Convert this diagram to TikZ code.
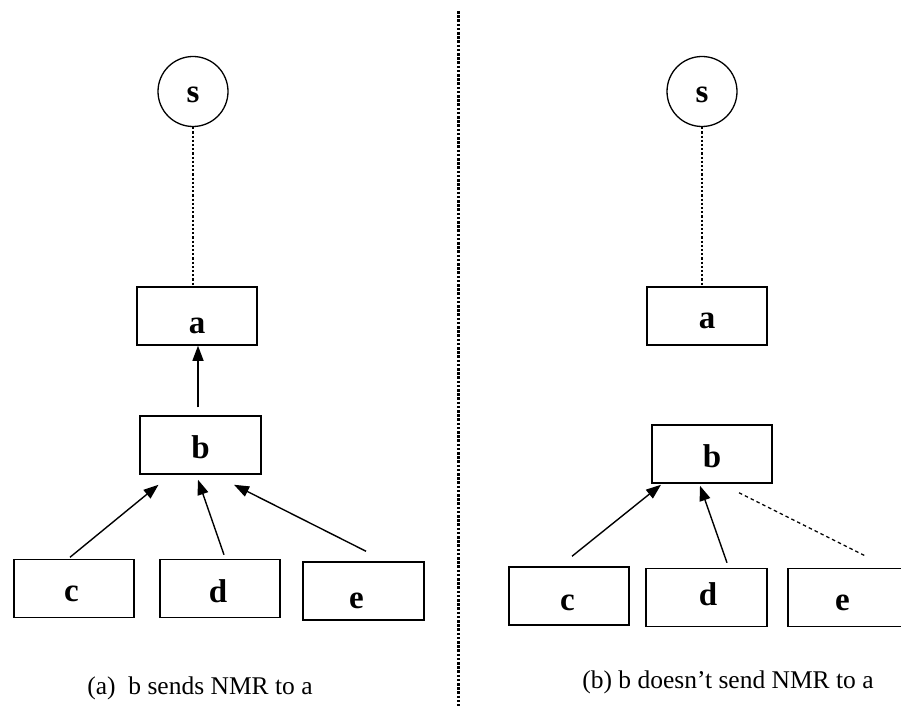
\documentclass[tikz,border=0pt]{standalone}
\usepackage{fontspec}
\setmainfont{Liberation Serif}
\usetikzlibrary{arrows.meta,calc}

\tikzset{
  % baseline sits half the text height below the node centre
  peer/.style={draw, line width=1.5pt, minimum width=120pt, minimum height=58pt,
               inner sep=0pt, text height=26pt, text depth=0pt,
               font=\fontsize{33}{36}\selectfont\bfseries},
  source/.style={draw, circle, line width=1.3pt, minimum size=70pt, inner sep=0pt,
                 text height=23pt, text depth=0pt,
                 font=\fontsize{33}{36}\selectfont\bfseries},
  % move the letter sideways inside its box without changing the box
  nudge/.style={execute at begin node={\hspace*{#1}},
                execute at end node={\hspace*{-#1}}},
  nmr/.style={line width=1.4pt, -{Triangle[length=15pt,width=11pt]}},
  silent/.style={line width=1.3pt, dash pattern=on 3.5pt off 3pt},
  uplink/.style={line width=1.2pt, dash pattern=on 2.2pt off 2pt},
  divider/.style={line width=3pt, dash pattern=on 2.6pt off 1.6pt},
  caption/.style={anchor=base, inner sep=0pt, font=\fontsize{25.5}{28}\selectfont}
}

\begin{document}
\begin{tikzpicture}[x=1pt, y=-1pt]
  \useasboundingbox (0,0) rectangle (901,711);

  % ---- (a) b sends NMR to a ----
  \node[source] (s1) at (193,91.5) {s};
  \node[peer, text height=34pt] (a1) at (197,316) {a};
  \node[peer, minimum width=121pt] (b1) at (200.5,445) {b};
  \node[peer, nudge=-2.5pt] (c1) at (74,588.5) {c};
  \node[peer, text height=27pt, nudge=-2pt] (d1) at (220,588.5) {d};
  \node[peer, minimum width=121pt, text height=34pt, nudge=-7pt] (e1) at (363.5,591) {e};

  \draw[uplink] (s1.south) -- (s1.south |- a1.north);
  \draw[nmr] ($(b1.north)+(-2.5,-8)$) -- ($(a1.south)+(1,0)$);
  \draw[nmr] ($(c1.north)+(-4,-1.5)$) -- ($(b1.south)+(-42,10)$);
  \draw[nmr] ($(d1.north)+(4,-4)$) -- ($(b1.south)+(-2.5,5)$);
  \draw[nmr] ($(e1.north)+(2.5,-10)$) -- ($(b1.south)+(33.5,10)$);

  \node[caption] (capa) at (200,694) {(a)\ \ b sends NMR to a};

  % ---- separator ----
  \coordinate (top) at (458,11);
  \coordinate (bottom) at (458,706);
  \draw[divider] (top) -- (bottom);

  % ---- (b) b doesn't send NMR to a ----
  \node[source] (s2) at (702,91.5) {s};
  \node[peer, text height=24pt] (a2) at (707,316) {a};
  \node[peer] (b2) at (712,454) {b};
  \node[peer, text height=28pt, nudge=-1.5pt] (c2) at (569,596) {c};
  \node[peer, minimum width=121pt, text height=15pt, nudge=1.5pt] (d2) at (706.5,597.5) {d};
  \node[peer, minimum width=121pt, text height=25pt, nudge=-6pt] (e2) at (848.5,597.5) {e};

  \draw[uplink] (s2.south) -- (s2.south |- a2.north);
  \draw[nmr] ($(c2.north)+(3,-10)$) -- ($(b2.south)+(-51,1)$);
  \draw[nmr] ($(d2.north)+(20.5,-5)$) -- ($(b2.south)+(-12,2)$);
  \draw[silent] ($(b2.south)+(27,9)$) -- ($(e2.north)+(17.5,-11.5)$);

  \node[caption] (capb) at (728,688) {(b) b doesn’t send NMR to a};
\end{tikzpicture}
\end{document}
